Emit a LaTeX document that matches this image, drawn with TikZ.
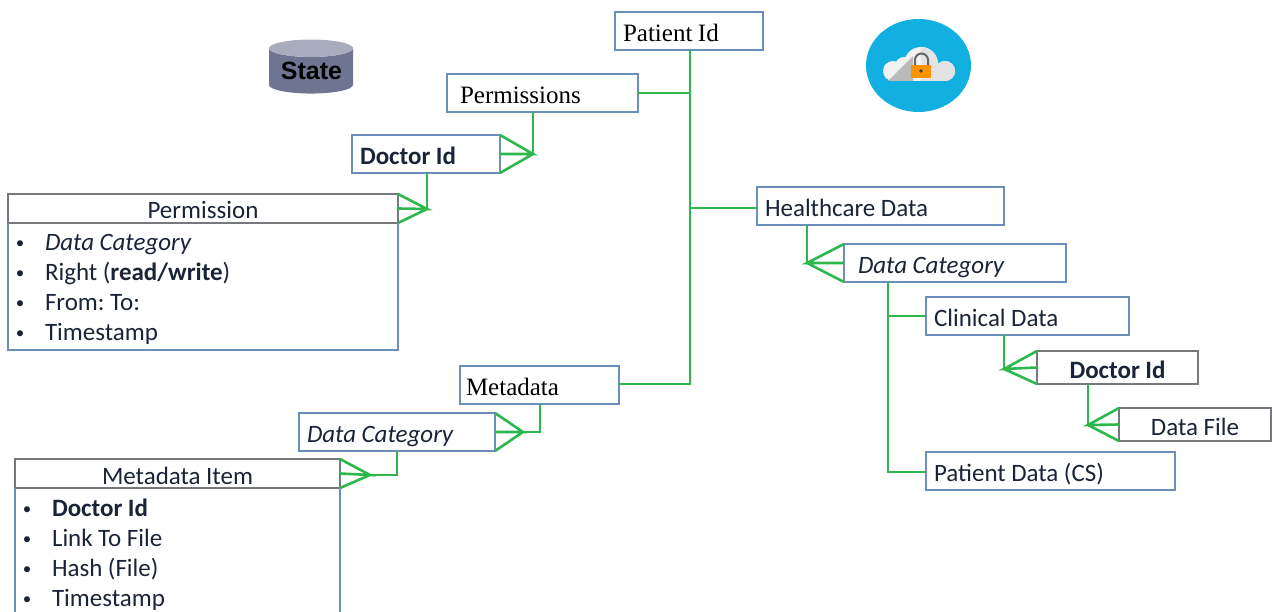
\documentclass[tikz,border=0pt]{standalone}
\usepackage{fontspec}
\setmainfont{Carlito}
\newfontfamily\serifface{Liberation Serif}
\newfontfamily\stateface{Liberation Sans}
\usepackage{tikz}
\usetikzlibrary{shapes.geometric}
\definecolor{boxblue}{HTML}{6C8EBA}
\definecolor{boxgray}{HTML}{77787C}
\definecolor{linkgreen}{HTML}{2DB84D}
\definecolor{inknavy}{HTML}{1A2438}
\newcommand{\bul}{\makebox[37pt][l]{\hspace{8pt}\raisebox{2pt}{\fontsize{17}{17}\selectfont\textbullet}}}
\newcommand{\cloudpath}{(893,71) circle [radius = 10] (921,64) circle [radius = 17] (904,66) circle [radius = 9] (945,71) circle [radius = 10] (945,71) rectangle (893,81)}

\begin{document}
\begin{tikzpicture}[x = 1pt, y = -1pt,
    box/.style = { draw = boxblue, line width = 1.8pt, anchor = north west, outer sep = 0pt, inner xsep = 8pt, inner ysep = 0pt,
      minimum height = 38pt, text height = 23pt, text depth = 2pt, align = left, text = inknavy,
      font = \fontsize{25}{27}\selectfont, execute at begin node = {\frenchspacing\spaceskip 5.5pt\relax} },
    serifbox/.style = { box, text = black, font = \serifface\fontsize{25}{27}\selectfont },
    graybox/.style = { box, draw = boxgray, align = center, minimum height = 29pt },
    listbox/.style = { anchor = north west, outer sep = 0pt, inner sep = 0pt, align = left, text = inknavy,
      font = \fontsize{25}{30}\selectfont, execute at begin node = {\frenchspacing\spaceskip 5.5pt\relax} },
    outline/.style = { draw = boxblue, line width = 1.8pt },
    link/.style = { draw = linkgreen, line width = 2.6pt }]
  \useasboundingbox (0,0) rectangle (1272,612);

  \node [serifbox, text width = 132pt] (patient) at (615,12) { Patient Id };
  \node [serifbox, text width = 175pt] (perms) at (447,74) { \hspace{5pt}Permissions };
  \node [box, text width = 132pt] (docperm) at (352,135) { \textbf{Doctor Id} };
  \node [graybox, text width = 374pt] (permhead) at (8,194) { Permission };
  \node [listbox, text width = 390pt] (permbody) at (8,234.5)
    { \bul\textit{Data Category} \\ \bul Right (\textbf{read/write}) \\ \bul From: To: \\ \bul Timestamp };

  \node [serifbox, text width = 143pt] (meta) at (460,366) { \hspace{-2pt}Metadata };
  \node [box, text width = 180pt] (metacat) at (299,413) { \textit{Data Category} };
  \node [graybox, text width = 309pt] (metahead) at (15,459) { Metadata Item };
  \node [listbox, text width = 325pt] (metabody) at (15,499)
    { \bul\textbf{Doctor Id} \\ \bul Link To File \\ \bul Hash (File) \\ \bul Timestamp };

  \node [box, text width = 231pt] (health) at (757,187) { Healthcare Data };
  \node [box, text width = 206pt] (healthcat) at (844,244) { \hspace{6pt}\textit{Data Category} };
  \node [box, text width = 187pt] (clinical) at (926,297) { Clinical Data };
  \node [graybox, text width = 145pt, minimum height = 33pt] (docclin) at (1037,351) { \textbf{Doctor Id} };
  \node [graybox, text width = 136pt, minimum height = 33pt] (datafile) at (1119,408) { Data File };
  \node [box, text width = 233pt] (patdata) at (926,452) { Patient Data (CS) };

  \coordinate (trunk) at (690,384);
  \coordinate (permsfoot) at (533,154);
  \coordinate (docfoot) at (427,209);
  \coordinate (metafoot) at (523,432);
  \coordinate (metabend) at (540,432);
  \coordinate (catfoot) at (370,475);
  \coordinate (catbend) at (397,475);
  \coordinate (healthfoot) at (807,263);
  \coordinate (spine) at (888,472);
  \coordinate (clinfoot) at (1004,369);
  \coordinate (filefoot) at (1088,425);

  \draw [link] (patient.south -| trunk) -- (trunk) -- (meta.east |- trunk);
  \draw [link] (perms.east) -- (perms.east -| trunk);
  \draw [link] ([yshift = -2pt]health.west) -- ([yshift = -2pt]health.west -| trunk);
  \draw [link] (perms.south -| permsfoot) -- (permsfoot);
  \draw [link] (docperm.south -| docfoot) -- (docfoot);
  \draw [link] (meta.south -| metabend) -- (metabend) -- (metafoot);
  \draw [link] (metacat.south -| catbend) -- (catbend) -- (catfoot);
  \draw [link] (health.south -| healthfoot) -- (healthfoot);
  \draw [link] (healthcat.south -| spine) -- (spine) -- (patdata.west |- spine);
  \draw [link] (clinical.west) -- (clinical.west -| spine);
  \draw [link] (clinical.south -| clinfoot) -- (clinfoot);
  \draw [link] (docclin.south -| filefoot) -- (filefoot);

  \foreach \foot/\target/\a/\b/\c in {
      permsfoot/docperm/north east/east/south east,
      docfoot/permhead/north east/east/south east,
      metafoot/metacat/north east/east/south east,
      catfoot/metahead/north east/east/south east,
      healthfoot/healthcat/north west/west/south west,
      clinfoot/docclin/north west/west/south west,
      filefoot/datafile/north west/west/south west}
    \draw [link] (\target.\a) -- (\foot) -- (\target.\b) (\foot) -- (\target.\c);

  \draw [outline] (permhead.south west) -- (permhead.south west |- 0,350) -- (permhead.south east |- 0,350) -- (permhead.south east);
  \draw [outline] (metahead.south west) -- (metahead.south west |- 0,612)
    (metahead.south east) -- (metahead.south east |- 0,612);

  \node [shape = cylinder, shape border rotate = 90, aspect = .28, cylinder uses custom fill, cylinder body fill = {rgb,255:red,111;green,117;blue,145},
    cylinder end fill = {rgb,255:red,169;green,172;blue,188}, minimum width = 84pt, minimum height = 54pt, inner sep = 0pt, outer sep = 0pt,
    font = \stateface\bfseries\fontsize{25}{27}\selectfont, text = black] (state) at (311,71) { \hspace{1pt}\raisebox{-13pt}{State} };

  \node [shape = ellipse, fill = {rgb,255:red,18;green,176;blue,224}, minimum width = 105pt, minimum height = 93pt, inner sep = 0pt] (vault) at (918.5,65.5) {};
  \fill [black!5] \cloudpath;
  \begin{scope}
    \clip (921,40) rectangle (960,90);
    \fill [black!11] \cloudpath;
  \end{scope}
  \fill [black!27] (888,81) -- (913,56) -- (913,81) -- cycle;
  \draw [black!60, line width = 2pt] (915,66) -- (915,60) arc [start angle = 180, end angle = 360, radius = 6.5] -- (928,66);
  \fill [orange!85!yellow] (911,65) rectangle (931,78);
  \fill [black!75] (921,71) circle [radius = 1.8];
\end{tikzpicture}
\end{document}
